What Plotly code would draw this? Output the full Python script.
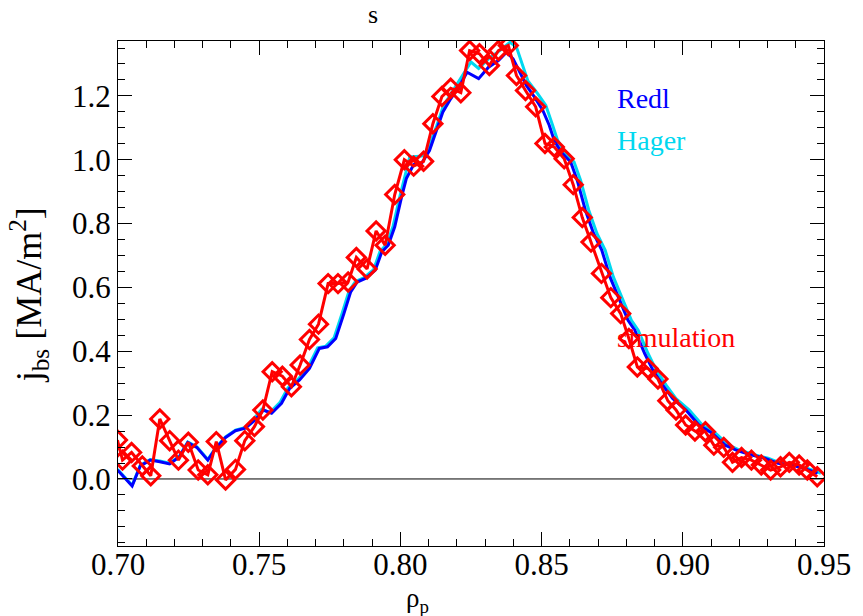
import plotly.graph_objects as go

# Simulation (red diamonds)
sim_x = [0.6998, 0.7016, 0.7048, 0.7086, 0.7116, 0.7148, 0.7183, 0.7214, 0.7249, 0.7284,
         0.7318, 0.7348, 0.7381, 0.7416, 0.7449, 0.7483, 0.7513, 0.7546, 0.7582, 0.7614,
         0.7645, 0.7678, 0.7710, 0.7744, 0.7779, 0.7815, 0.7844, 0.7882, 0.7914, 0.7946,
         0.7980, 0.8014, 0.8047, 0.8082, 0.8115, 0.8147, 0.8178, 0.8214, 0.8245, 0.8280,
         0.8315, 0.8347, 0.8382, 0.8411, 0.8443, 0.8479, 0.8512, 0.8545, 0.8580, 0.8612,
         0.8644, 0.8675, 0.8712, 0.8745, 0.8780, 0.8809, 0.8839, 0.8877, 0.8912, 0.8947,
         0.8976, 0.9010, 0.9043, 0.9080, 0.9110, 0.9145, 0.9176, 0.9208, 0.9243, 0.9278,
         0.9311, 0.9346, 0.9377, 0.9412, 0.9441, 0.9476]
sim_y = [0.122, 0.059, 0.083, 0.041, 0.010, 0.188, 0.120, 0.059, 0.115, 0.028,
         0.013, 0.117, -0.003, 0.030, 0.120, 0.164, 0.216, 0.336, 0.322, 0.289,
         0.357, 0.437, 0.485, 0.612, 0.612, 0.617, 0.694, 0.658, 0.777, 0.732,
         0.891, 1.000, 0.980, 0.995, 1.113, 1.198, 1.224, 1.210, 1.342, 1.332,
         1.295, 1.342, 1.358, 1.264, 1.217, 1.166, 1.051, 1.040, 1.003, 0.922,
         0.819, 0.742, 0.644, 0.568, 0.518, 0.440, 0.351, 0.346, 0.313, 0.245,
         0.216, 0.169, 0.150, 0.148, 0.106, 0.099, 0.052, 0.067, 0.059, 0.044,
         0.028, 0.038, 0.052, 0.044, 0.028, 0.007]

# Redl (blue)
redl_x = [0.6998, 0.7050, 0.7079, 0.7114, 0.7148, 0.7183, 0.7218, 0.7247, 0.7279, 0.7318,
          0.7346, 0.7381, 0.7416, 0.7451, 0.7486, 0.7515, 0.7544, 0.7579, 0.7608, 0.7643,
          0.7678, 0.7713, 0.7742, 0.7771, 0.7800, 0.7824, 0.7847, 0.7876, 0.7911, 0.7934,
          0.7957, 0.7980, 0.8004, 0.8021, 0.8047, 0.8076, 0.8103, 0.8128, 0.8150, 0.8178,
          0.8207, 0.8236, 0.8277, 0.8312, 0.8347, 0.8376, 0.8399, 0.8423, 0.8446, 0.8475,
          0.8504, 0.8527, 0.8545, 0.8569, 0.8603, 0.8626, 0.8655, 0.8684, 0.8713, 0.8742,
          0.8777, 0.8806, 0.8830, 0.8865, 0.8894, 0.8929, 0.8964, 0.9011, 0.9057, 0.9104,
          0.9150, 0.9193, 0.9244, 0.9290, 0.9337, 0.9383, 0.9430, 0.9477]
redl_y = [0.028, -0.022, 0.041, 0.059, 0.054, 0.047, 0.070, 0.114, 0.099, 0.059,
          0.096, 0.130, 0.151, 0.159, 0.185, 0.216, 0.206, 0.237, 0.284, 0.310,
          0.346, 0.409, 0.414, 0.440, 0.518, 0.586, 0.617, 0.628, 0.654, 0.711,
          0.732, 0.790, 0.883, 0.941, 0.985, 0.990, 1.029, 1.092, 1.149, 1.191,
          1.228, 1.274, 1.254, 1.290, 1.311, 1.337, 1.316, 1.274, 1.233, 1.196,
          1.155, 1.108, 1.060, 1.024, 0.993, 0.936, 0.842, 0.769, 0.717, 0.633,
          0.560, 0.497, 0.466, 0.393, 0.341, 0.294, 0.252, 0.216, 0.169, 0.143,
          0.106, 0.089, 0.075, 0.065, 0.049, 0.044, 0.033, 0.018]

# Hager (cyan)
hager_x = [0.6998, 0.7050, 0.7079, 0.7114, 0.7148, 0.7183, 0.7218, 0.7247, 0.7279, 0.7318,
           0.7346, 0.7381, 0.7416, 0.7451, 0.7480, 0.7509, 0.7538, 0.7573, 0.7602, 0.7637,
           0.7672, 0.7707, 0.7736, 0.7765, 0.7794, 0.7818, 0.7841, 0.7870, 0.7905, 0.7928,
           0.7951, 0.7974, 0.7998, 0.8015, 0.8033, 0.8082, 0.8103, 0.8128, 0.8152, 0.8185,
           0.8221, 0.8250, 0.8277, 0.8312, 0.8359, 0.8388, 0.8411, 0.8428, 0.8451, 0.8486,
           0.8515, 0.8539, 0.8557, 0.8581, 0.8615, 0.8638, 0.8667, 0.8696, 0.8725, 0.8754,
           0.8789, 0.8818, 0.8842, 0.8877, 0.8906, 0.8941, 0.8976, 0.9023, 0.9069, 0.9116,
           0.9162, 0.9205, 0.9256, 0.9302, 0.9349, 0.9395, 0.9442, 0.9489]
hager_y = [0.030, -0.020, 0.043, 0.061, 0.056, 0.049, 0.072, 0.116, 0.101, 0.061,
           0.098, 0.132, 0.153, 0.161, 0.187, 0.218, 0.208, 0.239, 0.286, 0.312,
           0.348, 0.411, 0.416, 0.442, 0.520, 0.588, 0.619, 0.630, 0.656, 0.713,
           0.734, 0.792, 0.885, 0.943, 1.009, 1.012, 1.045, 1.105, 1.168, 1.215,
           1.265, 1.306, 1.286, 1.316, 1.347, 1.368, 1.353, 1.306, 1.248, 1.207,
           1.170, 1.108, 1.060, 1.024, 0.993, 0.936, 0.842, 0.769, 0.717, 0.633,
           0.560, 0.497, 0.466, 0.393, 0.341, 0.294, 0.252, 0.216, 0.169, 0.143,
           0.106, 0.089, 0.075, 0.065, 0.049, 0.044, 0.033, 0.018]

x_ticks = [0.70, 0.75, 0.80, 0.85, 0.90, 0.95]
x_tick_labels = ["0.70", "0.75", "0.80", "0.85", "0.90", "0.95"]
y_ticks = [0.0, 0.2, 0.4, 0.6, 0.8, 1.0, 1.2]
y_tick_labels = ["0.0", "0.2", "0.4", "0.6", "0.8", "1.0", "1.2"]

SERIF = "Liberation Serif"
BLUE = "#0000ff"
CYAN = "#00d8f0"
RED = "#ff0000"

fig = go.Figure()

# zero line
fig.add_trace(go.Scatter(x=[0.70, 0.95], y=[0, 0], mode="lines",
                         line=dict(color="black", width=1), showlegend=False,
                         hoverinfo="skip"))
fig.add_trace(go.Scatter(x=hager_x, y=hager_y, mode="lines", name="Hager",
                         line=dict(color=CYAN, width=3), showlegend=False))
fig.add_trace(go.Scatter(x=redl_x, y=redl_y, mode="lines", name="Redl",
                         line=dict(color=BLUE, width=3), showlegend=False))
fig.add_trace(go.Scatter(x=sim_x, y=sim_y, mode="lines+markers", name="simulation",
                         line=dict(color=RED, width=3),
                         marker=dict(symbol="diamond-open", size=14, color=RED,
                                     line=dict(color=RED, width=3)),
                         showlegend=False, cliponaxis=True))

axis_common = dict(
    showline=True, linecolor="black", linewidth=1, mirror="allticks",
    ticks="inside", tickcolor="black", tickwidth=1, showgrid=False,
    zeroline=False, tickfont=dict(family=SERIF, size=31, color="black"),
)
fig.update_xaxes(range=[0.70, 0.95], tickvals=x_ticks, ticktext=x_tick_labels,
                 ticklen=14, ticklabelstandoff=-9,
                 minor=dict(dtick=0.01, tick0=0.70, ticks="inside", ticklen=7,
                            tickcolor="black", showgrid=False),
                 **axis_common)
fig.update_yaxes(range=[-0.21, 1.372], tickvals=y_ticks, ticktext=y_tick_labels,
                 ticklen=14,
                 minor=dict(dtick=0.05, tick0=0.0, ticks="inside", ticklen=7,
                            tickcolor="black", showgrid=False),
                 **axis_common)

annos = [
    dict(text="s", x=0.3617, y=1.052, xanchor="center", yanchor="middle",
         font=dict(size=26, color="black")),
    dict(text="ρ<sub>p</sub>", x=0.4246, y=-0.106, xanchor="center", yanchor="middle",
         font=dict(size=27, color="black")),
    dict(text="j<sub>bs</sub> [MA/m<sup>2</sup>]", x=-0.1257, y=0.497, textangle=-90,
         xanchor="center", yanchor="middle", font=dict(size=36, color="black")),
    dict(text="Redl", x=0.704, y=0.887, xanchor="left", yanchor="middle",
         font=dict(size=28, color=BLUE)),
    dict(text="Hager", x=0.704, y=0.802, xanchor="left", yanchor="middle",
         font=dict(size=28, color=CYAN)),
    dict(text="simulation", x=0.704, y=0.412, xanchor="left", yanchor="middle",
         font=dict(size=28, color=RED)),
]
for a in annos:
    a.update(xref="paper", yref="paper", showarrow=False)
    a["font"]["family"] = SERIF
fig.update_layout(
    width=863, height=616,
    margin=dict(l=118, r=29, t=41, b=70),
    paper_bgcolor="white", plot_bgcolor="white",
    font=dict(family=SERIF, color="black"),
    annotations=annos,
    showlegend=False,
)
fig.write_html("out.html")
